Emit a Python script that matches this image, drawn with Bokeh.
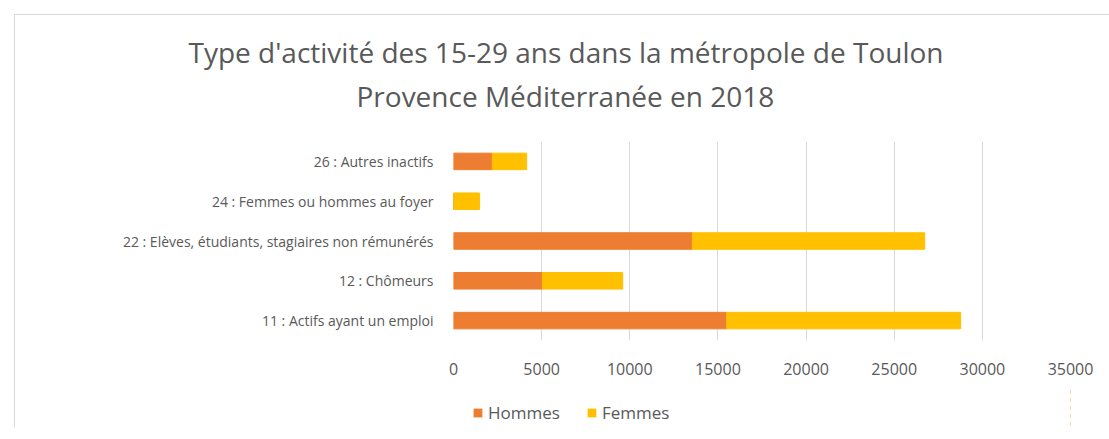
from bokeh.plotting import figure
from bokeh.layouts import column
from bokeh.models import (ColumnDataSource, FactorRange, Range1d, FixedTicker, Title,
                          Legend, LegendItem)
from bokeh.embed import file_html
from bokeh.resources import INLINE

categories = [
    "11 : Actifs ayant un emploi",
    "12 : Chômeurs",
    "22 : Elèves, étudiants, stagiaires non rémunérés",
    "24 : Femmes ou hommes au foyer",
    "26 : Autres inactifs",
]
hommes = [15500, 5040, 13550, 0, 2200]
femmes = [13270, 4560, 13180, 1480, 1950]
series = ["Hommes", "Femmes"]
colors = ["#ED7D31", "#FFC000"]
x_ticks = [0, 5000, 10000, 15000, 20000, 25000, 30000, 35000]
title_lines = ["Type d'activité des 15-29 ans dans la métropole de Toulon",
               "Provence Méditerranée en 2018"]

FONT = "Open Sans"
TXT = "#595959"
W = 1094
LEFT, RIGHT = 438, 39

# --- main chart ----------------------------------------------------------
source = ColumnDataSource(dict(cat=categories, Hommes=hommes, Femmes=femmes))
p = figure(width=W, height=372, y_range=FactorRange(*categories),
           x_range=Range1d(0, 35000), output_backend="svg", toolbar_location=None,
           min_border_left=LEFT, min_border_right=RIGHT, min_border_top=126,
           min_border_bottom=47)
p.title = None
p.hbar_stack(series, y="cat", height=0.415, color=colors, source=source)

p.add_layout(Title(text=title_lines[1], align="left", vertical_align="top",
                   text_font=FONT, text_font_size="28px", text_color=TXT,
                   text_font_style="normal", standoff=50, offset=-97), "above")
p.add_layout(Title(text=title_lines[0], align="left", vertical_align="bottom",
                   text_font=FONT, text_font_size="28px", text_color=TXT,
                   text_font_style="normal", standoff=-39, offset=-265), "above")

p.xaxis.ticker = FixedTicker(ticks=x_ticks)
for ax in [p.xaxis[0], p.yaxis[0]]:
    ax.axis_line_color = None
    ax.major_tick_line_color = None
    ax.minor_tick_line_color = None
    ax.major_label_text_font = FONT
    ax.major_label_text_color = TXT
p.xaxis.major_label_text_font_size = "16px"
p.yaxis.major_label_text_font_size = "14px"
p.xaxis.major_label_standoff = 16
p.yaxis.major_label_standoff = 14
p.xgrid.grid_line_color = "#D9D9D9"
p.ygrid.grid_line_color = None
p.outline_line_color = None

# --- legend strip (its bars lie outside its visible x range) ---------------
p2 = figure(width=W, height=40, y_range=FactorRange(*categories), x_range=Range1d(-2, -1),
            x_axis_type=None, y_axis_type=None, output_backend="svg",
            toolbar_location=None, min_border_left=LEFT, min_border_right=RIGHT,
            min_border_top=0, min_border_bottom=0)
p2.title = None
p2.grid.visible = False
p2.outline_line_color = None
legend_renderers = p2.hbar_stack(series, y="cat", height=0.415, fill_color=colors,
                                 line_color=None, source=source)
items = [LegendItem(label=s, renderers=[r]) for s, r in zip(series, legend_renderers)]
legend = Legend(items=items, orientation="horizontal", location=(19, 3),
                padding=0, margin=0, glyph_width=11, glyph_height=11,
                label_standoff=5, spacing=26, label_text_font=FONT,
                label_text_font_size="17px", label_text_color=TXT,
                border_line_color=None, background_fill_alpha=0)
p2.add_layout(legend, "center")

layout = column(p, p2, spacing=0)
layout.margin = (14, 0, 0, 14)
layout.styles = {"border-top": "1px solid #D9D9D9", "border-left": "1px solid #D9D9D9"}

open("out.html", "w").write(file_html(layout, INLINE))
